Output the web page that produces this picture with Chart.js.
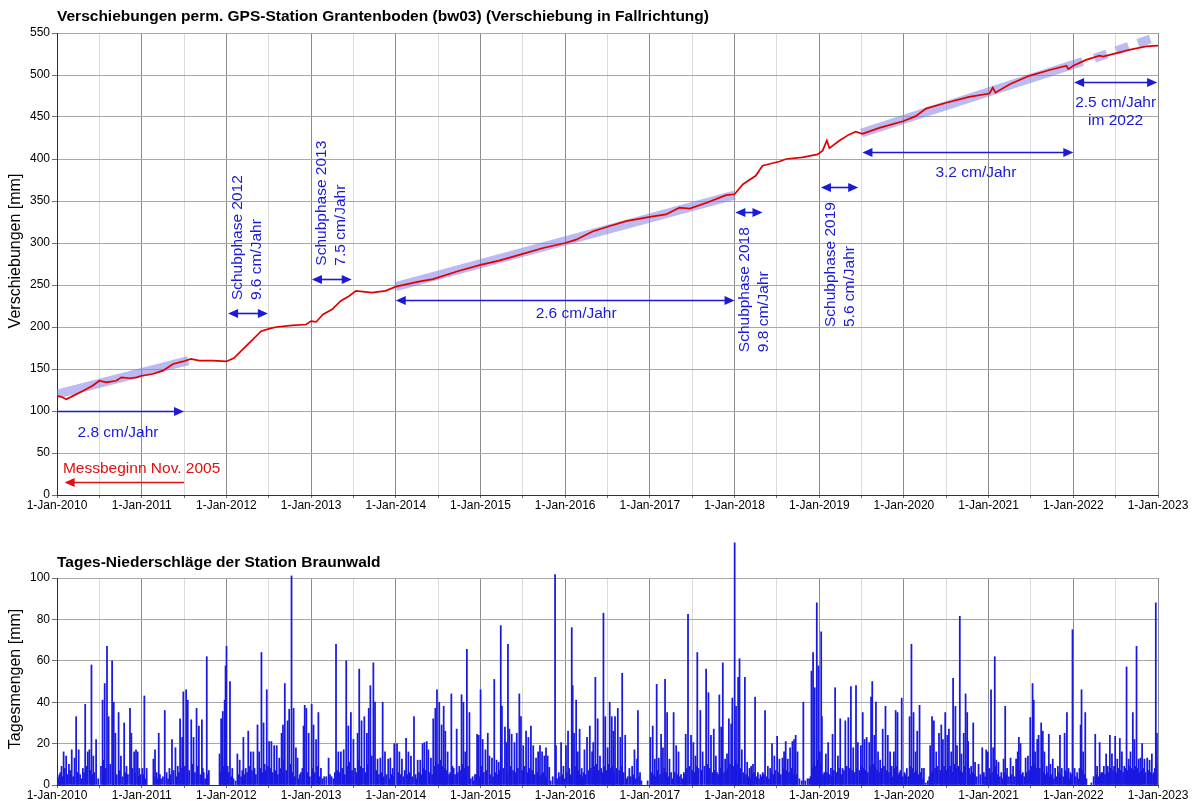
<!DOCTYPE html>
<html><head><meta charset="utf-8">
<script src="https://cdn.jsdelivr.net/npm/chart.js@4.4.0/dist/chart.umd.min.js"></script>
<style>
html,body{margin:0;padding:0;background:#fff;}
#wrap{position:relative;width:1199px;height:801px;overflow:hidden;background:#fff;}
canvas{position:absolute;left:0;}
#c1{top:0;width:1199px;height:520px;}
#c2{top:520px;width:1199px;height:281px;}
</style></head><body>
<div id="wrap"><canvas id="c1" width="1199" height="520"></canvas><canvas id="c2" width="1199" height="281"></canvas></div>
<script>
// ---------------- DATA ----------------
const topTitle = 'Verschiebungen perm. GPS-Station Grantenboden (bw03) (Verschiebung in Fallrichtung)';
const bottomTitle = 'Tages-Niederschläge der Station Braunwald';
const topYTitle = 'Verschiebungen [mm]';
const bottomYTitle = 'Tagesmengen [mm]';
const tickYears = [2010,2011,2012,2013,2014,2015,2016,2017,2018,2019,2020,2021,2022,2023];

// displacement (decimal year, mm)
const dispYears = [2010.00,2010.05,2010.11,2010.19,2010.31,2010.42,2010.50,2010.58,2010.70,2010.76,2010.86,2010.94,
 2011.00,2011.13,2011.25,2011.37,2011.49,2011.58,2011.68,2011.84,2012.00,2012.09,2012.19,2012.31,2012.41,2012.51,
 2012.59,2012.78,2012.94,2013.00,2013.06,2013.14,2013.25,2013.35,2013.45,2013.53,2013.72,2013.88,2014.00,2014.27,
 2014.44,2014.75,2015.00,2015.22,2015.50,2015.74,2016.00,2016.13,2016.33,2016.52,2016.72,2017.00,2017.19,2017.35,
 2017.47,2017.67,2017.90,2018.00,2018.10,2018.25,2018.33,2018.41,2018.53,2018.61,2018.80,2018.98,2019.04,2019.09,
 2019.12,2019.24,2019.35,2019.43,2019.51,2019.71,2019.99,2020.14,2020.26,2020.50,2020.77,2021.01,2021.05,2021.08,
 2021.25,2021.48,2021.72,2021.92,2021.94,2022.00,2022.15,2022.31,2022.35,2022.51,2022.66,2022.86,2023.00];
const dispMM = [118,117,114,118,124,130,136,134,136,140,139,140,
 142,144,148,156,159,162,160,160,159,163,173,185,195,198,
 200,202,203,207,206,215,221,231,237,243,241,243,248,254,
 257,267,274,279,287,294,300,304,314,320,326,331,334,342,
 341,348,357,358,370,380,392,394,397,400,402,405.5,410,422,
 413,422,429,432.5,430,437,445,451,460,467,474,478,485,479,
 489,499,506,511,507,511,518,523,522,526,530,534,535];

// trend bands (decimal year, mm)
const band1X = [2010.0, 2011.55], band1Y = [120, 160];
const band2X = [2014.0, 2018.0],  band2Y = [248, 357];
const band3X = [2019.5, 2022.11], band3Y = [431, 516];
const band4X = [2022.25, 2023.0], band4Y = [520, 546];

// daily precipitation, per year: [day of year, mm] — the visible peaks
const rain2010 = [[4,4],[11,5],[20,9],[29,16],[40,14],[52,10],[64,17],[76,13],[83,33],[94,17],[112,8],[122,39],[133,16],[140,17],[149,58],[157,14],[169,22],[190,9],[197,41],[206,49],[216,67],[223,33],[238,60],[245,40],[252,25],[266,35],[276,14],[290,30],[300,9],[315,37],[321,25],[333,16],[341,17],[348,16],[355,8]];
const rain2011 = [[4,8],[12,43],[22,8],[51,12.5],[58,17],[74,25],[84,3],[100,36],[120,8],[131,22],[146,18],[156,9],[166,32],[175,23],[180,45],[192,46],[199,41],[214,31.5],[224,23],[237,37],[247,28.5],[260,31.5],[268,6],[281,62],[290,7],[336,15],[343,32],[350,35.5],[358,41],[362,57.5]];
const rain2012 = [[1,67],[16,50],[26,8],[48,15],[58,12],[74,23],[84,8],[95,26],[106,16],[117,16],[135,29],[142,16],[152,64],[161,30],[175,46],[185,21],[195,21],[207,19],[218,19],[229,13],[239,25],[245,29],[253,49],[265,31],[272,36.6],[282,101],[291,37],[301,18],[308,13],[323,6],[334,28.5],[339,38.5],[346,37],[356,25]];
const rain2013 = [[3,39],[11,29],[22,22],[32,35],[43,8],[57,4],[76,13],[89,4],[108,68],[118,16],[129,16],[141,17],[152,60],[161,28.5],[172,35],[183,22],[190,8],[201,25],[208,56],[218,31],[230,33],[241,25],[249,37],[256,48],[269,59],[276,40],[287,12.5],[299,13],[309,40],[319,16],[333,12.5],[342,13],[352,8],[359,20]];
const rain2014 = [[6,20],[16,16],[27,12.5],[45,22.5],[55,16],[66,14],[79,33],[95,12],[106,12],[116,20],[124,20.5],[134,21],[141,17],[152,13],[162,32],[171,37],[178,46],[188,40],[198,29],[207,38],[214,26],[224,16],[240,44],[250,8],[263,27],[274,9],[284,43.6],[292,40],[300,16],[307,65.5],[318,35],[332,4],[342,5],[351,24.5],[358,24]];
const rain2015 = [[1,46],[10,22],[22,17],[32,25],[39,14],[50,13],[60,51],[70,12],[79,11],[88,77],[93,38],[106,28],[112,20.5],[119,68],[125,27],[135,24.5],[147,20.5],[157,25],[168,44],[175,33],[185,19],[197,26],[207,23],[218,28.5],[228,19],[240,13],[249,16],[257,19],[266,16],[276,14],[283,18],[290,14],[297,8.5],[312,4],[322,101.6],[326,19],[338,6],[348,20.5],[358,9]];
const rain2016 = [[4,19],[13,26],[29,76],[33,48],[39,25],[48,41],[55,16],[63,27],[72,8],[84,17],[95,23],[107,28.5],[117,16],[122,20.5],[131,52],[141,32],[151,14],[166,83],[174,33],[184,18],[193,40],[202,33],[209,26],[216,33],[228,37],[239,23],[247,54],[260,24],[271,4],[278,8],[290,9],[300,17],[311,12.5],[315,36],[324,6],[357,2]];
const rain2017 = [[3,23],[13,28.5],[22,12.5],[30,48.6],[39,13],[49,24.5],[57,18],[66,51],[75,35],[85,12.5],[92,6],[103,35],[114,19],[124,16],[135,5],[147,6],[155,24.5],[165,82.5],[178,24],[188,20.5],[197,14],[205,64],[218,36],[228,16],[243,56],[253,44.6],[264,24],[276,27],[285,14],[290,6],[300,43.5],[308,28],[315,59],[325,12.5],[333,15],[341,32],[351,29.5],[356,42]];
const rain2018 = [[1,117],[7,38],[16,52],[22,61],[32,17],[45,52],[55,11],[65,8],[72,9],[80,10],[89,42.5],[101,6],[112,5],[122,6],[132,36],[144,9],[154,8],[162,20],[172,14],[184,23.5],[194,12.5],[207,13],[214,16],[221,21],[230,12.5],[240,18],[250,21],[257,22],[264,24],[272,16],[297,40],[322,3],[332,55],[339,64],[346,47],[355,88],[362,57.5]];
const rain2019 = [[3,16],[9,74],[12,33],[22,6],[29,15],[39,20.5],[51,8],[58,24.5],[69,47],[81,14],[91,32],[101,8],[113,31],[126,32.5],[137,47.5],[147,18],[159,48],[167,20.5],[180,19],[188,35],[196,22],[205,23],[216,20.5],[224,42.5],[229,50],[238,24],[245,40],[254,16],[263,12],[274,27],[286,38],[296,24],[306,16],[313,9],[322,16],[330,36],[338,35],[346,6],[356,42]];
const rain2020 = [[3,6],[13,8],[25,33],[33,68],[42,35],[51,16],[58,26],[68,38.5],[78,8],[87,8],[104,2],[114,19],[122,33],[130,31],[140,16],[152,25],[162,29],[169,22],[179,35],[188,24],[195,27],[205,16],[213,51.5],[223,38],[230,19],[242,81.5],[249,15],[259,25],[267,44],[274,35],[278,21],[282,8],[291,9],[300,30],[308,11],[323,10],[339,18],[346,6],[356,17],[363,16]];
const rain2021 = [[4,8],[11,46],[20,18],[27,62],[34,12],[43,11],[55,6],[65,12.5],[72,38],[80,8],[95,13],[106,9],[119,12.5],[126,16],[131,23],[138,20],[148,6],[160,13],[170,14],[180,32.6],[190,49],[195,41],[201,16],[210,22],[216,24],[227,30],[234,26],[241,16],[251,9],[260,24.5],[267,10],[277,12.5],[287,8],[299,9],[308,24],[316,8],[328,25],[338,35],[345,8],[353,6],[362,75]];
const rain2022 = [[6,8],[17,6],[27,8],[32,29],[36,46],[43,16],[52,35],[78,1],[95,24.5],[103,9],[114,20.5],[121,6],[132,9],[142,15],[149,9],[158,24],[167,15],[181,23.5],[190,12.5],[201,22.5],[210,16],[220,9],[230,57],[239,12.5],[247,16],[257,35],[264,22],[273,67],[282,12.5],[290,13],[297,20],[307,12.5],[319,13],[329,12],[339,15],[348,6],[356,88],[361,25]];

// daily precipitation, per year: [day of year, mm] — the dense small amounts between the peaks
const small2010 = [[8,3],[15,6],[24,4],[34,8],[45,5],[57,7],[70,4],[88,6],[100,5],[106,3],[117,6],[127,9],[145,7],[153,5],[162,6],[178,3],[202,12],[211,8],[230,10],[242,6],[258,5],[270,7],[283,4],[295,6],[306,5],[326,8],[337,6],[352,4],[361,5]];
const small2011 = [[8,5],[17,3],[55,4],[65,6],[70,3],[79,5],[92,4],[108,6],[114,3],[125,5],[138,7],[151,4],[161,6],[170,8],[186,9],[195,12],[205,7],[219,10],[230,6],[242,9],[253,5],[264,8],[274,3],[285,5],[340,6],[354,9]];
const small2012 = [[6,9],[11,6],[21,4],[31,3],[40,2],[53,5],[64,4],[69,7],[79,5],[90,6],[100,9],[111,7],[122,8],[128,5],[147,8],[156,6],[166,10],[170,7],[180,9],[190,8],[201,6],[212,7],[223,5],[234,8],[249,12],[259,7],[277,10],[287,6],[296,4],[313,3],[318,5],[329,8],[351,6],[361,4]];
const small2013 = [[7,8],[16,6],[27,9],[37,4],[50,3],[66,4],[82,5],[97,3],[103,6],[113,7],[124,6],[135,8],[146,5],[157,9],[167,11],[177,7],[195,6],[205,12],[213,9],[224,8],[236,6],[245,10],[262,14],[281,7],[293,5],[304,6],[314,4],[326,5],[338,3],[347,5],[356,4]];
const small2014 = [[11,6],[21,5],[33,4],[39,7],[50,5],[61,6],[72,4],[86,5],[90,3],[101,6],[111,5],[120,8],[129,7],[146,6],[157,5],[167,9],[175,11],[183,10],[193,12],[203,9],[210,8],[219,7],[230,5],[235,6],[245,9],[256,5],[268,6],[279,7],[288,10],[296,8],[304,6],[312,9],[324,3],[337,2],[347,5],[355,8],[362,4]];
const small2015 = [[5,9],[15,6],[27,7],[44,5],[55,4],[65,6],[74,5],[84,7],[99,8],[116,6],[130,9],[141,7],[152,6],[162,8],[180,7],[191,9],[202,6],[212,8],[223,7],[234,5],[245,6],[253,4],[262,5],[271,6],[280,4],[287,3],[303,2],[331,3],[343,4],[353,5],[362,3]];
const small2016 = [[8,6],[18,8],[23,5],[43,9],[52,6],[59,7],[68,5],[77,4],[80,6],[89,5],[101,7],[112,8],[127,9],[136,10],[146,7],[156,8],[161,6],[170,9],[179,7],[188,10],[197,8],[206,9],[212,6],[222,8],[234,7],[243,9],[253,6],[266,3],[284,4],[295,5],[306,3],[320,4],[330,2]];
const small2017 = [[8,6],[18,5],[26,4],[35,7],[44,5],[53,6],[62,8],[71,6],[80,4],[97,3],[108,6],[119,5],[129,4],[141,3],[151,5],[160,8],[171,9],[183,7],[193,6],[201,9],[210,8],[223,7],[236,9],[248,10],[259,8],[270,6],[280,7],[295,5],[304,8],[311,9],[320,6],[329,7],[337,8],[346,10],[361,9]];
const small2018 = [[4,12],[11,10],[19,14],[27,8],[38,6],[50,5],[60,4],[68,3],[76,5],[85,6],[95,4],[106,3],[117,4],[127,5],[138,4],[149,3],[158,6],[167,5],[177,7],[189,6],[200,5],[210,8],[218,6],[226,7],[235,6],[245,8],[254,5],[261,7],[268,5],[280,3],[290,2],[305,2],[315,3],[328,4],[336,8],[343,10],[350,9],[358,12]];
const small2019 = [[6,10],[17,5],[25,4],[34,6],[45,5],[55,4],[63,7],[75,6],[86,8],[96,5],[107,7],[119,9],[131,8],[142,7],[153,6],[163,8],[173,7],[184,9],[192,8],[200,7],[210,6],[220,9],[234,10],[242,8],[250,7],[258,6],[268,8],[280,9],[291,7],[301,6],[310,5],[318,4],[326,8],[334,9],[342,5],[351,7],[361,4]];
const small2020 = [[8,5],[19,4],[29,9],[38,8],[47,6],[55,7],[63,5],[73,6],[83,3],[95,1],[110,4],[118,6],[126,7],[135,8],[145,9],[157,7],[166,8],[174,9],[184,7],[192,8],[200,9],[209,6],[218,10],[227,8],[236,9],[246,7],[254,6],[263,9],[287,5],[296,6],[304,5],[315,4],[331,5],[351,4],[360,5]];
const small2021 = [[7,5],[15,6],[24,7],[31,9],[39,5],[49,4],[60,3],[69,6],[76,5],[88,4],[100,5],[113,4],[122,6],[135,7],[143,5],[154,4],[165,6],[175,7],[185,9],[199,10],[205,8],[213,9],[221,8],[231,7],[238,6],[246,5],[256,6],[264,4],[272,5],[282,3],[293,4],[304,6],[312,5],[322,4],[333,7],[341,6],[349,3],[358,5]];
const small2022 = [[11,4],[22,3],[39,7],[47,5],[57,3],[88,4],[99,5],[108,4],[118,5],[127,6],[137,5],[145,7],[153,6],[162,8],[172,7],[176,9],[186,6],[195,8],[205,7],[215,6],[225,8],[234,7],[243,9],[252,8],[260,7],[268,9],[277,8],[286,6],[293,7],[302,8],[312,6],[324,7],[334,6],[344,5],[352,8],[359,10]];

const rainByYear = {2010:[rain2010,small2010],2011:[rain2011,small2011],2012:[rain2012,small2012],2013:[rain2013,small2013],
  2014:[rain2014,small2014],2015:[rain2015,small2015],2016:[rain2016,small2016],2017:[rain2017,small2017],
  2018:[rain2018,small2018],2019:[rain2019,small2019],2020:[rain2020,small2020],2021:[rain2021,small2021],2022:[rain2022,small2022]};

// annotations (data coordinates)
const arrows = [
  {from:2010.0,  to:2011.5,  y:100, both:false, color:'blue'},
  {from:2011.5,  to:2010.09, y:16,  both:false, color:'red'},
  {from:2012.02, to:2012.49, y:217, both:true,  color:'blue'},
  {from:2013.01, to:2013.48, y:257.5, both:true, color:'blue'},
  {from:2014.0,  to:2018.0,  y:232, both:true,  color:'blue'},
  {from:2018.01, to:2018.33, y:337, both:true,  color:'blue'},
  {from:2019.02, to:2019.46, y:367, both:true,  color:'blue'},
  {from:2019.51, to:2022.0,  y:408, both:true,  color:'blue'},
  {from:2022.01, to:2022.99, y:492, both:true,  color:'blue'}
];
const labels = [
  {text:'2.8 cm/Jahr', x:2010.72, y:74},
  {text:'Messbeginn Nov. 2005', x:2010.07, y:31, align:'left', color:'red'},
  {text:'Schubphase 2012', x:2012.138, y:232, rot:true},
  {text:'9.6 cm/Jahr', x:2012.357, y:232, rot:true},
  {text:'Schubphase 2013', x:2013.12, y:273, rot:true},
  {text:'7.5 cm/Jahr', x:2013.35, y:273, rot:true},
  {text:'2.6 cm/Jahr', x:2016.13, y:216},
  {text:'Schubphase 2018', x:2018.12, y:170, rot:true},
  {text:'9.8 cm/Jahr', x:2018.34, y:170, rot:true},
  {text:'Schubphase 2019', x:2019.14, y:200, rot:true},
  {text:'5.6 cm/Jahr', x:2019.36, y:200, rot:true},
  {text:'3.2 cm/Jahr', x:2020.85, y:384},
  {text:'2.5 cm/Jahr', x:2022.5, y:467},
  {text:'im 2022', x:2022.5, y:445}
];

// ---------------- STYLE ----------------
const FONT = '"Liberation Sans", Arial, Helvetica, sans-serif';
const COL = {blue:'#1a1ad8', red:'#e01010'};
const RED_LINE = '#e00000';
const BAND = 'rgba(120,120,230,0.5)';
const BAR = 'rgb(25,25,225)';
Chart.defaults.font.family = FONT;
Chart.defaults.font.size = 12;
Chart.defaults.color = '#000';

const isLeap = y => (y%4===0 && y%100!==0) || y%400===0;
const pts = (xs, ys) => xs.map((x,i)=>({x, y: ys[i]}));
const rainPoints = [];
Object.keys(rainByYear).forEach(k => {
  const yr = +k, n = isLeap(yr) ? 366 : 365;
  rainByYear[k].forEach(list => list.forEach(([d,v]) => rainPoints.push({x: yr + (d - 0.5)/n, y: v})));
});
rainPoints.sort((a,b)=>a.x-b.x);

function xScale(afterH, tickLen) {
  return {
    type:'linear', min: tickYears[0], max: tickYears[tickYears.length-1], offset:false,
    afterBuildTicks(s){ s.ticks = []; for (let y = s.min; y <= s.max + 1e-9; y += 0.5) s.ticks.push({value:y}); },
    ticks:{ autoSkip:false, maxRotation:0, minRotation:0, padding:0,
      callback:(v)=> Number.isInteger(v) && tickYears.includes(v) ? '1-Jan-' + v : '' },
    grid:{ offset:false, color:(c)=> (c.tick && Number.isInteger(c.tick.value)) ? '#8c8c8c' : '#dadada',
           tickColor:'#707070', tickLength: tickLen, lineWidth:1 },
    border:{ color:'#303030' },
    afterFit(s){ s.height = afterH; }
  };
}
function yScale(max, step) {
  return {
    type:'linear', min:0, max:max,
    ticks:{ stepSize:step, padding:2 },
    grid:{ color:'#a8a8a8', tickColor:'#707070', tickLength:5, lineWidth:1 },
    border:{ color:'#303030' },
    afterFit(s){ s.width = 57; }
  };
}

function drawTitleAndAxis(chart, title, titleY, yTitle, yTitleY) {
  const ctx = chart.ctx;
  ctx.save();
  ctx.fillStyle = '#000';
  ctx.font = 'bold 15.5px ' + FONT;
  ctx.textAlign = 'left'; ctx.textBaseline = 'middle';
  ctx.fillText(title, chart.chartArea.left, titleY);
  ctx.translate(16, yTitleY);
  ctx.rotate(-Math.PI/2);
  ctx.font = '16px ' + FONT;
  ctx.textAlign = 'center';
  ctx.fillText(yTitle, 0, 0);
  ctx.restore();
}

const decorTop = {
  id:'decorTop',
  afterDatasetsDraw(chart){
    const ctx = chart.ctx, xs = chart.scales.x, ys = chart.scales.y;
    drawTitleAndAxis(chart, topTitle, 17, topYTitle, 251);
    ctx.save();
    arrows.forEach(a => {
      const c = COL[a.color];
      const x1 = xs.getPixelForValue(a.from), x2 = xs.getPixelForValue(a.to);
      const y = Math.round(ys.getPixelForValue(a.y)) + 0.5;
      const dir = Math.sign(x2 - x1), L = 10, W = 4.5;
      ctx.strokeStyle = c; ctx.fillStyle = c; ctx.lineWidth = 1.6;
      ctx.beginPath();
      ctx.moveTo(x1 + (a.both ? dir*L*0.8 : 0), y);
      ctx.lineTo(x2 - dir*L*0.8, y);
      ctx.stroke();
      const head = (x, d) => { ctx.beginPath(); ctx.moveTo(x, y); ctx.lineTo(x - d*L, y - W); ctx.lineTo(x - d*L, y + W); ctx.closePath(); ctx.fill(); };
      head(x2, dir);
      if (a.both) head(x1, -dir);
    });
    ctx.font = '15.5px ' + FONT;
    labels.forEach(t => {
      const x = xs.getPixelForValue(t.x), y = ys.getPixelForValue(t.y);
      ctx.fillStyle = COL[t.color || 'blue'];
      ctx.textBaseline = 'middle';
      if (t.rot) {
        ctx.save(); ctx.translate(x, y); ctx.rotate(-Math.PI/2);
        ctx.textAlign = 'left'; ctx.fillText(t.text, 0, 0); ctx.restore();
      } else {
        ctx.textAlign = t.align || 'center';
        ctx.fillText(t.text, x, y);
      }
    });
    ctx.restore();
  }
};
const decorBottom = {
  id:'decorBottom',
  afterDatasetsDraw(chart){ drawTitleAndAxis(chart, bottomTitle, 43, bottomYTitle, 159); }
};

const common = {
  responsive:false, maintainAspectRatio:false, animation:false, devicePixelRatio:1, events:[],
  plugins:{ legend:{display:false}, tooltip:{enabled:false}, title:{display:false} }
};

new Chart(document.getElementById('c1'), {
  type:'line',
  data:{ datasets:[
    {data: pts(dispYears, dispMM), borderColor: RED_LINE, borderWidth:1.7, pointRadius:0, tension:0, order:0},
    {data: pts(band1X, band1Y), borderColor: BAND, borderWidth:9, pointRadius:0, borderCapStyle:'butt', order:1},
    {data: pts(band2X, band2Y), borderColor: BAND, borderWidth:9, pointRadius:0, borderCapStyle:'butt', order:1},
    {data: pts(band3X, band3Y), borderColor: BAND, borderWidth:9, pointRadius:0, borderCapStyle:'butt', order:1},
    {data: pts(band4X, band4Y), borderColor: BAND, borderWidth:9, pointRadius:0, borderCapStyle:'butt', borderDash:[13,10], order:1}
  ]},
  options: Object.assign({}, common, {
    layout:{ padding:{ top:33, right:41, left:0, bottom:0 } },
    scales:{ x: xScale(25, 3), y: yScale(550, 50) }
  }),
  plugins:[decorTop]
});

new Chart(document.getElementById('c2'), {
  type:'bar',
  data:{ datasets:[
    {data: rainPoints, backgroundColor: BAR, borderWidth:0, barThickness:1.1, clip:false}
  ]},
  options: Object.assign({}, common, {
    layout:{ padding:{ top:58, right:41, left:0, bottom:0 } },
    scales:{ x: xScale(16, 3), y: yScale(100, 20) }
  }),
  plugins:[decorBottom]
});
</script>
</body></html>
